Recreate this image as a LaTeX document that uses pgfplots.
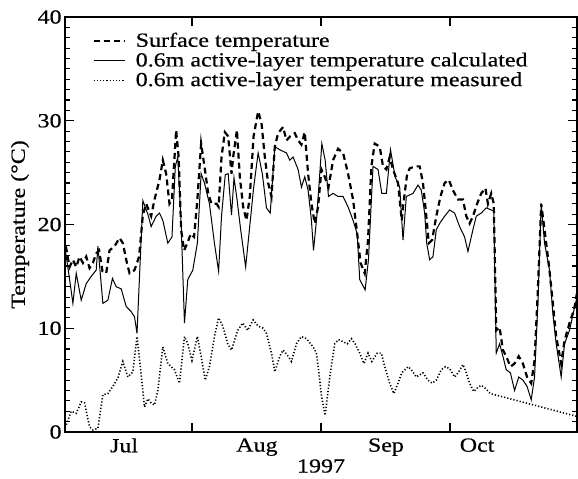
\documentclass[border=0pt]{standalone}
\usepackage{fontspec}
\setmainfont{Liberation Serif}[FakeStretch=1.2, FakeBold=0.5]
\usepackage{pgfplots}
\pgfplotsset{compat=1.18}
\newcommand\ff{\fontsize{10pt}{11pt}\selectfont}

% x = days from the left edge of the plot (about 1 Jul), y = temperature in deg C
\pgfplotstableread{
d T
0.2 17.9
1.1 15.9
1.9 16.6
2.7 15.9
3.5 16.9
4.3 16.3
5.1 16.9
5.9 15.8
6.7 16.3
7.5 17.2
8.2 17.5
9.0 15.5
9.9 15.3
10.7 17.5
11.9 17.9
13.1 18.7
13.9 18.2
14.7 16.6
15.5 15.3
16.7 15.6
17.8 16.9
18.7 20.9
19.5 22.0
20.7 20.8
21.5 22.4
22.7 24.3
23.5 26.2
24.3 24.9
25.1 22.0
25.7 22.4
26.7 29.1
27.3 26.5
27.9 19.5
28.6 17.5
29.4 18.2
30.2 19.1
31.0 18.8
31.8 22.4
32.7 27.8
33.5 25.6
34.4 23.0
35.2 22.0
36.4 22.0
36.9 21.7
37.6 26.5
38.4 28.9
39.2 28.5
40.0 24.9
40.4 26.5
41.3 29.1
42.0 24.6
42.8 21.7
43.6 20.4
44.4 22.7
45.3 28.5
46.4 30.9
47.2 29.8
48.0 26.5
48.8 24.0
49.6 22.7
50.4 27.5
51.2 28.8
52.4 29.4
53.2 28.1
54.1 28.5
55.2 28.8
56.0 28.1
56.8 27.7
57.6 28.9
58.4 24.9
59.2 22.0
60.0 20.1
60.8 21.7
61.6 25.3
62.4 24.6
63.3 23.6
64.4 26.2
65.6 27.3
66.8 26.9
68.0 24.9
69.2 22.4
70.2 19.1
71.0 16.3
72.0 15.3
72.8 18.5
73.6 25.6
74.4 27.8
75.6 27.5
76.4 25.6
77.2 25.3
78.0 26.5
78.8 25.3
80.0 24.0
80.9 20.4
81.2 21.7
82.2 24.9
82.8 25.4
84.0 25.6
85.2 25.6
86.0 24.0
86.8 20.8
87.4 18.2
88.2 18.5
89.2 20.8
90.2 22.7
91.2 24.0
92.2 24.3
93.2 23.3
94.4 22.4
95.6 22.4
96.4 20.8
97.2 20.1
98.0 20.8
99.0 22.0
100.0 23.0
101.0 23.5
101.6 22.0
102.4 23.0
103.0 22.0
103.6 9.8
104.4 10.1
105.2 7.9
106.0 7.3
107.0 6.3
108.0 6.6
109.0 7.3
110.0 6.6
111.0 5.3
112.0 4.7
112.8 6.9
113.6 13.7
114.4 22.0
115.2 19.5
116.3 15.9
117.2 12.4
118.0 9.2
119.2 6.6
120.0 8.8
121.2 10.5
122.3 11.8
123.0 13.4
}\surface

\pgfplotstableread{
d T
0.2 17.2
1.0 15.0
1.9 12.4
2.7 15.3
3.9 12.7
5.1 14.3
6.3 15.0
7.5 15.6
7.9 17.9
9.1 12.4
10.3 12.7
11.4 14.8
12.3 14.0
13.5 13.8
14.7 12.1
15.9 11.6
16.7 11.1
17.3 9.5
18.7 22.3
19.9 21.0
20.7 19.8
21.9 20.8
22.7 21.1
23.5 20.4
24.7 18.2
25.7 18.8
26.5 25.6
27.1 26.5
27.9 20.1
28.7 10.5
29.5 14.7
30.7 15.6
31.8 18.2
32.7 24.9
33.5 24.0
34.7 22.0
35.9 18.2
36.9 15.5
37.6 20.8
38.5 24.8
39.2 24.9
40.0 20.9
40.6 24.5
41.3 22.5
42.2 19.5
43.4 15.9
44.3 19.5
45.3 23.5
46.4 26.9
47.4 24.9
48.4 21.6
49.3 21.1
50.4 27.5
51.6 27.2
53.2 26.9
54.0 26.2
54.8 26.5
56.0 25.3
56.8 23.6
57.6 24.6
58.4 23.3
59.2 20.4
59.7 17.5
60.5 20.8
61.7 27.8
62.5 26.2
63.3 22.7
64.4 23.0
65.6 22.7
66.8 22.7
68.0 21.7
69.2 20.4
70.2 19.1
70.8 14.7
72.1 13.7
72.9 16.6
74.0 25.6
75.2 25.3
76.1 23.0
77.2 23.0
78.2 27.2
79.3 24.6
80.4 23.6
81.2 18.5
82.0 22.7
83.6 23.0
84.8 23.8
85.6 23.3
86.4 21.1
86.9 18.2
87.6 16.6
88.4 16.9
89.2 19.5
90.0 20.1
91.2 20.8
92.4 21.4
93.6 21.1
94.8 19.8
96.0 18.8
96.8 17.4
98.0 19.5
98.8 20.8
100.0 21.1
101.2 21.6
103.0 21.3
103.6 7.6
104.4 8.5
105.2 7.3
106.0 6.0
107.0 5.7
108.0 4.0
109.0 5.3
110.0 5.0
111.0 4.4
112.0 3.1
112.8 5.3
113.6 12.4
114.4 22.0
115.2 18.2
116.4 15.6
117.2 11.4
118.0 8.5
119.2 5.3
120.0 8.5
121.2 9.8
122.3 11.8
123.0 13.0
}\calculated

\pgfplotstableread{
d T
0.3 0.7
1.5 2.0
2.7 1.8
3.9 2.9
4.7 2.8
5.9 0.5
6.7 0.2
7.9 0.35
9.1 3.6
10.3 3.7
11.5 4.4
12.7 5.2
13.9 6.8
15.1 5.3
16.3 5.8
17.3 9.2
18.1 6.3
19.1 2.4
19.9 3.2
20.7 2.8
21.5 2.6
22.3 4.0
23.5 8.2
24.7 6.6
26.3 6.0
27.5 4.7
28.7 9.2
29.5 8.5
30.5 6.9
31.8 9.2
32.7 7.3
33.7 5.0
34.7 6.3
35.9 9.2
36.9 11.0
37.9 10.2
39.1 8.5
40.0 7.9
41.5 9.8
42.7 10.5
43.9 9.8
45.2 10.8
46.4 10.2
47.6 10.0
48.4 9.5
49.6 7.6
50.4 5.8
51.6 7.3
52.4 7.9
53.6 7.3
54.4 6.8
55.6 8.5
56.8 9.2
58.0 9.0
59.6 8.2
60.4 7.6
61.0 5.7
61.6 3.5
62.5 1.6
63.6 5.3
64.8 8.5
65.7 8.9
66.8 8.7
67.8 8.5
68.8 9.0
69.7 8.5
70.8 7.6
71.8 6.6
72.8 7.6
73.7 6.8
75.0 7.6
76.0 7.6
76.8 6.3
78.0 4.7
79.0 3.7
80.0 4.7
80.9 5.7
82.4 6.3
83.2 6.0
84.4 5.3
86.0 5.7
87.2 5.0
88.2 4.7
89.2 5.0
90.4 6.0
91.4 6.3
92.4 6.1
93.6 5.3
94.6 5.8
95.6 6.5
96.4 5.7
97.2 4.7
98.2 3.9
99.2 4.3
100.0 4.5
101.0 4.2
102.2 3.7
123.0 1.5
}\measured

\begin{document}
\begin{tikzpicture}
\begin{axis}[
  name=ax,
  scale only axis,
  width=256pt, height=207.5pt,
  xmin=0, xmax=123, ymin=0, ymax=40,
  axis line style={line width=0.7pt},
  every tick/.style={black, line width=0.6pt},
  major tick length=4.5pt, minor tick length=2.5pt,
  tick align=inside,
  xtick={30.5,61.5,92.5}, xticklabels={},
  extra x ticks={14.2,46.1,77.1,99.0},
  extra x tick labels={Jul,Aug,Sep,Oct},
  extra x tick style={tick style={draw=none}},
  ytick={0,10,20,30,40},
  minor y tick num=9,
  /pgf/number format/assume math mode=true,
  tick label style={font=\ff},
  yticklabel style={inner sep=0pt, xshift=-1.5pt},
  xticklabel style={inner sep=0pt, yshift=-3pt},
  xlabel={1997},
  xlabel style={font=\ff, at={(axis description cs:0.5,-0.082)}, anchor=center},
  ylabel={Temperature (°C)},
  ylabel style={font=\ff, at={(axis description cs:-0.088,0.5)}, anchor=center},
  legend style={at={(axis description cs:0.053,0.968)}, anchor=north west,
    draw=none, fill=none, inner sep=0pt, row sep=-0.6pt,
    nodes={inner sep=1pt, font=\ff},
    /tikz/every odd column/.append style={column sep=4pt}},
  legend cell align={left},
  legend image code/.code={\draw[#1] (0pt,0pt) -- (15.5pt,0pt);},
]
\addplot[black, line width=1.1pt, dash pattern=on 3pt off 2pt] table[x=d, y=T] {\surface};
\addplot[black, line width=0.5pt] table[x=d, y=T] {\calculated};
\addplot[black, line width=0.8pt, dash pattern=on 0.6pt off 1pt] table[x=d, y=T] {\measured};
\legend{Surface temperature, 0.6m active-layer temperature calculated, 0.6m active-layer temperature measured}
\end{axis}
\pgfresetboundingbox
\path[use as bounding box] ([shift={(-32.5pt,-23.5pt)}]ax.south west) rectangle ([shift={(0.5pt,8.5pt)}]ax.north east);
\end{tikzpicture}
\end{document}
